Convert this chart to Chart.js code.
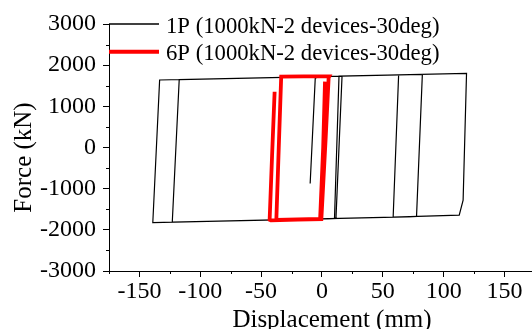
<!DOCTYPE html>
<html>
<head>
<meta charset="utf-8">
<script src="https://cdn.jsdelivr.net/npm/chart.js@4"></script>
<style>
  html, body { margin: 0; padding: 0; background: #fff; }
  #wrap { width: 532px; height: 329px; }
</style>
</head>
<body>
<div id="wrap"><canvas id="hyst" width="532" height="329"></canvas></div>
<script>
// 1P (1000kN-2 devices-30deg) : displacement (mm) / force (kN)
const p1Disp  = [-9.7, -5.5, -5.0, 16.5, 11.5, -123.0, -117.3, 82.5, 77.7, -139.0, -133.4, 118.8, 116.0, 112.8, 58.5, 63.0, 14.0, 10.3];
const p1Force = [-874, 1690, 1718, 1735, -1727, -1812, 1650, 1778, -1680, -1823, 1640, 1803, -1280, -1645, -1693, 1765, 1733, -1728];

// 6P (1000kN-2 devices-30deg)
const p6Disp  = [-38.9, -41.0, -43.0, -42.0, -20.0, -0.5, 3.0, 5.5, 6.0, -15.0, -33.5, -35.5, -37.5, -20.0, -1.5, 1.0, 2.5];
const p6Force = [1355, -200, -1755, -1768, -1752, -1738, 200, 1700, 1728, 1730, 1722, 0, -1760, -1748, -1735, 0, 1600];

const seriesNames = ["1P (1000kN-2 devices-30deg)", "6P (1000kN-2 devices-30deg)"];
const xTickValues = [-175, -150, -125, -100, -75, -50, -25, 0, 25, 50, 75, 100, 125, 150, 175];
const yTickValues = [-3000, -2500, -2000, -1500, -1000, -500, 0, 500, 1000, 1500, 2000, 2500, 3000];
const xTitle = "Displacement (mm)";
const yTitle = "Force (kN)";

const FONT = "'Liberation Serif', 'Times New Roman', serif";
Chart.defaults.color = "#000";

function toPoints(xs, ys){
  return xs.map((v, i) => ({ x: v, y: ys[i] }));
}

// minor ticks, axis titles and legend
const extras = {
  id: "extras",
  afterDraw(chart){
    const { ctx, scales: { x, y } } = chart;
    ctx.save();
    ctx.strokeStyle = "#000";
    ctx.lineWidth = 1;
    ctx.beginPath();
    x.ticks.forEach(t => {
      if (t.value % 50 !== 0) {
        const px = Math.round(x.getPixelForValue(t.value)) + 0.5;
        ctx.moveTo(px, x.top); ctx.lineTo(px, x.top + 3);
      }
    });
    y.ticks.forEach(t => {
      if (t.value % 1000 !== 0) {
        const py = Math.round(y.getPixelForValue(t.value)) + 0.5;
        ctx.moveTo(y.right - 3, py); ctx.lineTo(y.right, py);
      }
    });
    ctx.stroke();

    // axis titles
    ctx.fillStyle = "#000";
    ctx.font = "25px " + FONT;
    ctx.textAlign = "center";
    ctx.textBaseline = "alphabetic";
    ctx.fillText(xTitle, 332, 327);
    ctx.save();
    ctx.translate(30.5, 157.5);
    ctx.rotate(-Math.PI / 2);
    ctx.fillText(yTitle, 0, 0);
    ctx.restore();

    // legend
    ctx.font = "22.7px " + FONT;
    ctx.textAlign = "left";
    chart.data.datasets.forEach((ds, i) => {
      const ly = 24 + i * 27.7;
      ctx.strokeStyle = ds.borderColor;
      ctx.lineWidth = i === 0 ? 1.3 : 4;
      ctx.beginPath();
      ctx.moveTo(109, ly); ctx.lineTo(159, ly);
      ctx.stroke();
      ctx.fillText(ds.label, 166, ly + 8.5);
    });
    ctx.restore();
  }
};

new Chart(document.getElementById("hyst"), {
  type: "scatter",
  data: {
    datasets: [
      { label: seriesNames[0], data: toPoints(p1Disp, p1Force), showLine: true,
        borderColor: "#000", borderWidth: 1.2, pointRadius: 0, order: 2 },
      { label: seriesNames[1], data: toPoints(p6Disp, p6Force), showLine: true,
        borderColor: "#ff0000", borderWidth: 3.8, pointRadius: 0, order: 1 }
    ]
  },
  options: {
    responsive: false,
    animation: false,
    layout: { padding: { top: 24, left: 0, right: 0, bottom: 0 } },
    plugins: { legend: { display: false }, tooltip: { enabled: false } },
    scales: {
      x: {
        type: "linear", min: -175, max: 172.6,
        afterBuildTicks: s => { s.ticks = xTickValues.filter(v => v <= s.max).map(v => ({ value: v })); },
        afterFit: s => { s.height = 58; },
        border: { display: true, color: "#000", width: 1 },
        grid: { drawOnChartArea: false, tickLength: 6,
                tickColor: c => (c.tick && c.tick.value % 50 === 0) ? "#000" : "rgba(0,0,0,0)" },
        ticks: { autoSkip: false, maxRotation: 0, padding: 0, font: { family: FONT, size: 24 },
                 callback: v => v % 50 === 0 ? String(v) : "" }
      },
      y: {
        type: "linear", min: -3000, max: 3000,
        afterBuildTicks: s => { s.ticks = yTickValues.map(v => ({ value: v })); },
        afterFit: s => { s.width = 109; },
        border: { display: true, color: "#000", width: 1 },
        grid: { drawOnChartArea: false, tickLength: 6,
                tickColor: c => (c.tick && c.tick.value % 1000 === 0) ? "#000" : "rgba(0,0,0,0)" },
        ticks: { autoSkip: false, padding: 7, font: { family: FONT, size: 24 },
                 callback: v => v % 1000 === 0 ? String(v) : "" }
      }
    }
  },
  plugins: [extras]
});
</script>
</body>
</html>
